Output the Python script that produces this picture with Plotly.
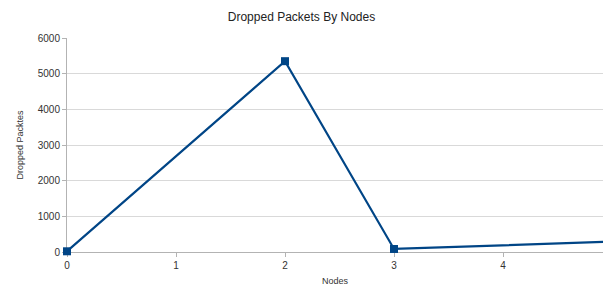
import plotly.graph_objects as go

nodes = [0, 1, 2, 3, 4, 5]
dropped = [20, None, 5350, 85, None, 290]
tick_vals = [0, 1, 2, 3, 4]
y_ticks = [0, 1000, 2000, 3000, 4000, 5000, 6000]

xs = [n for n, d in zip(nodes, dropped) if d is not None]
ys = [d for d in dropped if d is not None]

fig = go.Figure()
fig.add_trace(go.Scatter(
    x=xs, y=ys, mode="lines+markers",
    line=dict(color="#004586", width=2.2),
    marker=dict(symbol="square", size=8, color="#004586"),
    cliponaxis=False,
))

fig.update_layout(
    width=603, height=286,
    margin=dict(l=67, r=0, t=38, b=34),
    paper_bgcolor="white", plot_bgcolor="white",
    font=dict(family="Liberation Sans, Arial, sans-serif", size=10, color="#333333"),
    title=dict(text="Dropped Packets By Nodes", x=0.5, xanchor="center",
               y=1 - 17 / 286, yanchor="middle",
               font=dict(size=12, color="#222222")),
    showlegend=False,
    xaxis=dict(
        range=[0, (603 - 67) / 109], tickvals=tick_vals,
        showgrid=False, zeroline=False, automargin=False, layer="below traces",
        showline=True, linecolor="#b3b3b3", linewidth=1,
        ticks="outside", ticklen=4, tickcolor="#b3b3b3",
        tickfont=dict(size=10, color="#333333"),
        title=dict(text="Nodes", font=dict(size=9, color="#333333"), standoff=10),
    ),
    yaxis=dict(
        range=[0, 6000], tickvals=y_ticks,
        showgrid=True, gridcolor="#d9d9d9", gridwidth=1,
        zeroline=False, automargin=False, layer="below traces",
        showline=True, linecolor="#b3b3b3", linewidth=1,
        ticks="outside", ticklen=4, tickcolor="#b3b3b3",
        tickfont=dict(size=10, color="#333333"),
        title=dict(text="Dropped Packtes", font=dict(size=9, color="#333333"), standoff=12),
    ),
)

fig.write_html(
    "out.html",
    config={"displayModeBar": False},
    post_script="document.body.style.margin='0';document.body.style.overflow='hidden';",
)
